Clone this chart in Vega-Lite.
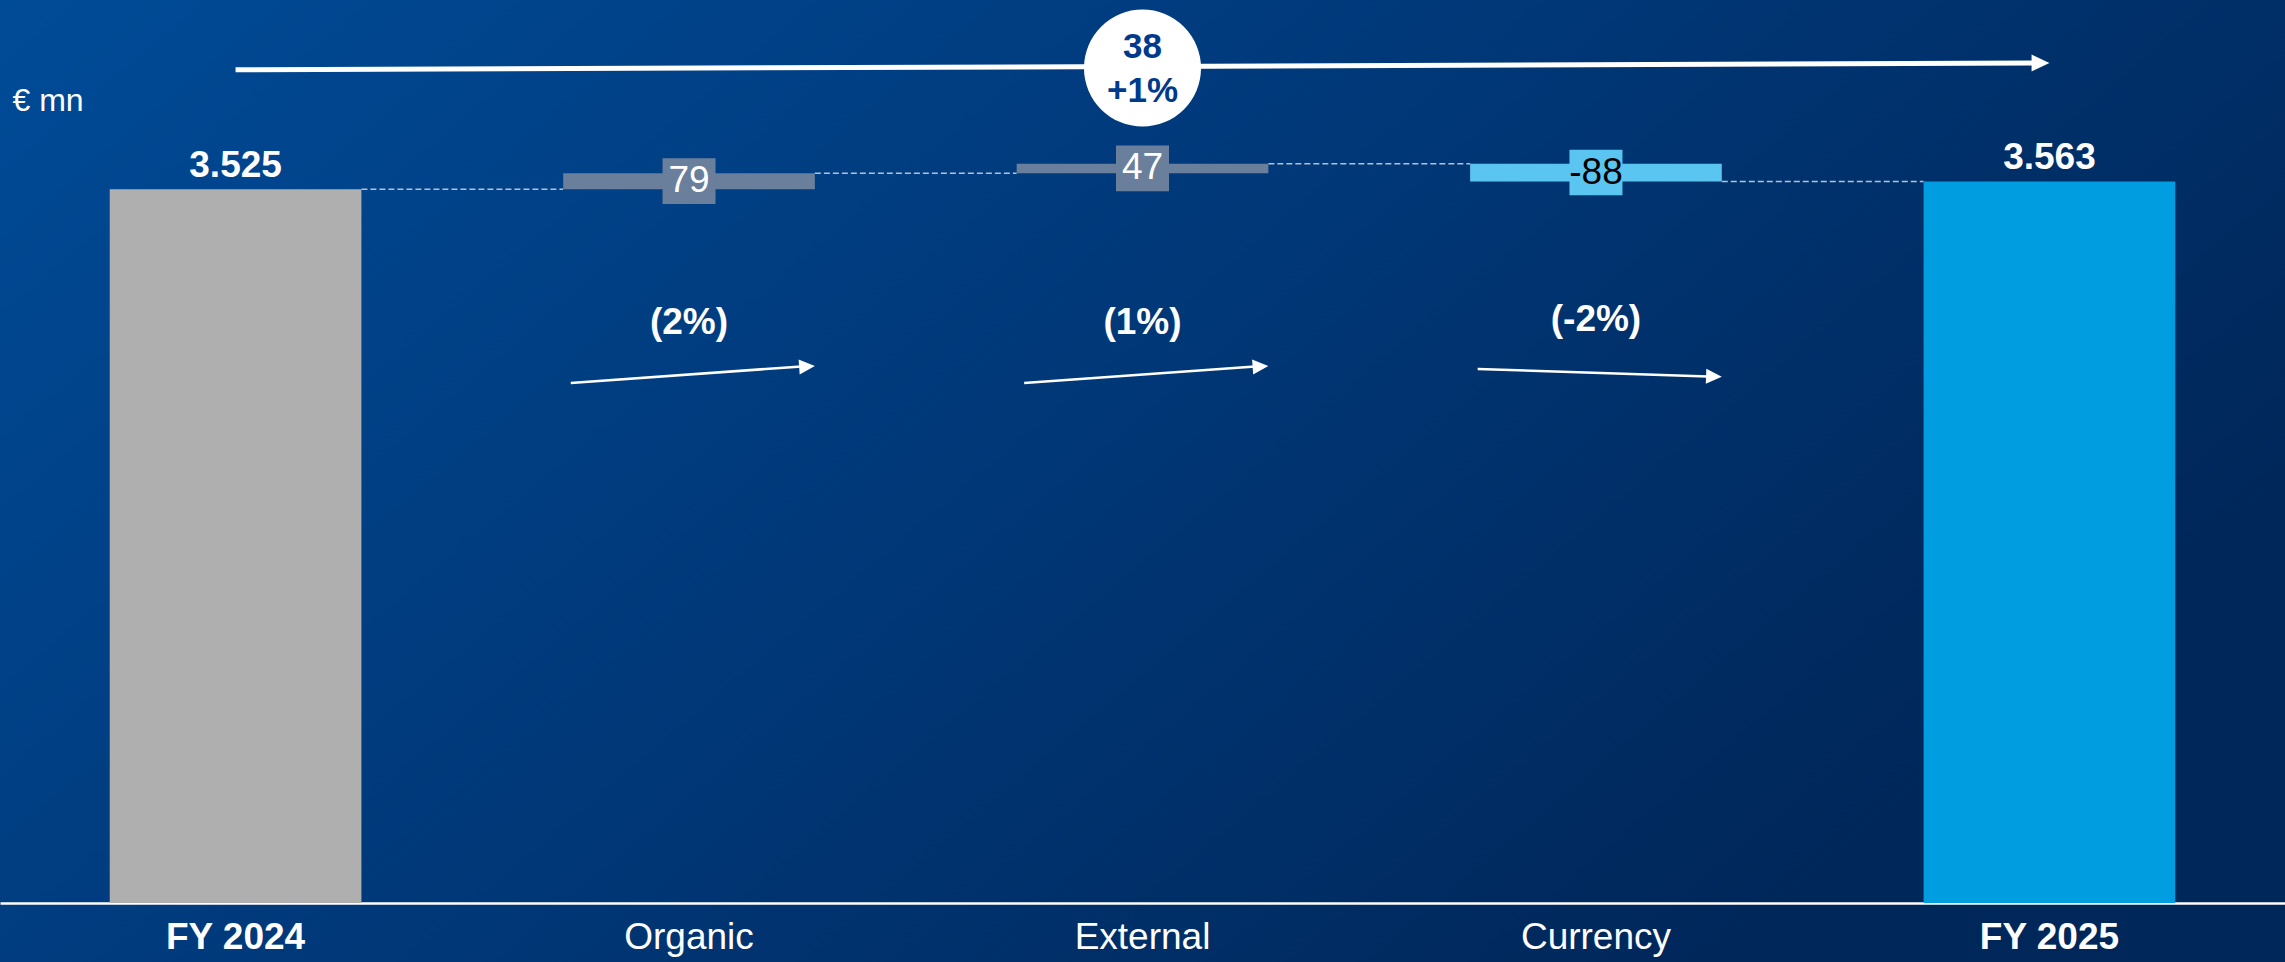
{
  "$schema": "https://vega.github.io/schema/vega-lite/v6.json",
  "width": 2285,
  "height": 962,
  "autosize": {"type": "none"},
  "padding": 0,
  "background": "#003a7a",
  "config": {
    "view": {
      "stroke": null,
      "fill": {
        "gradient": "linear",
        "x1": 0, "y1": 0, "x2": 1, "y2": 0.5,
        "stops": [
          {"offset": 0, "color": "#004b97"},
          {"offset": 0.5, "color": "#00397a"},
          {"offset": 1, "color": "#00275a"}
        ]
      }
    },
    "font": "Liberation Sans",
    "axisX": {
      "orient": "bottom", "offset": -59, "ticks": false, "tickSize": 0,
      "domainColor": "#ffffff", "domainWidth": 2.5, "labelColor": "#ffffff", "labelFontSize": 37,
      "labelFont": "Liberation Sans", "labelPadding": 34, "labelBaseline": "middle", "labelAngle": 0,
      "grid": false
    },
    "axisY": {
      "titleAngle": 0, "titleX": 12, "titleY": 100,
      "titleAlign": "left", "titleBaseline": "middle", "titleFontSize": 32, "titleFontWeight": "normal",
      "titleColor": "#ffffff", "titleFont": "Liberation Sans", "labels": false, "ticks": false,
      "domain": false, "grid": false
    }
  },
  "datasets": {
    "bars": [
      {"cat": "FY 2024", "start": 0, "end": 3525, "label": "3.525"},
      {"cat": "Organic", "start": 3525, "end": 3604, "label": "79"},
      {"cat": "External", "start": 3604, "end": 3651, "label": "47"},
      {"cat": "Currency", "start": 3651, "end": 3563, "label": "-88"},
      {"cat": "FY 2025", "start": 0, "end": 3563, "label": "3.563"}
    ],
    "connectors": [
      {"cat": "FY 2024", "to": "Organic", "v": 3525},
      {"cat": "Organic", "to": "External", "v": 3604},
      {"cat": "External", "to": "Currency", "v": 3651},
      {"cat": "Currency", "to": "FY 2025", "v": 3563}
    ],
    "pcts": [
      {"cat": "Organic", "pct": "(2%)", "v": 2864},
      {"cat": "External", "pct": "(1%)", "v": 2864},
      {"cat": "Currency", "pct": "(-2%)", "v": 2879}
    ],
    "arrows": [
      {"cat": "Organic", "v": 2568, "b": 2652},
      {"cat": "External", "v": 2568, "b": 2652},
      {"cat": "Currency", "v": 2637, "b": 2598}
    ],
    "total": [
      {"cat": "FY 2024", "to": "FY 2025", "v": 4114, "b": 4148}
    ],
    "bubble": [
      {"cat": "External", "v": 4123, "text": "38\n+1%"}
    ]
  },
  "encoding": {
    "x": {
      "field": "cat", "type": "nominal", "title": null,
      "scale": {"domain": ["FY 2024", "Organic", "External", "Currency", "FY 2025"], "paddingInner": 0.445, "paddingOuter": 0.242},
      "axis": {
        "labelFontWeight": {"condition": {"test": "indexof(datum.value,'FY')===0", "value": "bold"}, "value": "normal"}
      }
    },
    "y": {
      "field": "v", "type": "quantitative", "title": "€ mn",
      "scale": {"domain": [-291.4, 4459], "nice": false, "zero": false}
    }
  },
  "layer": [
    {
      "data": {"name": "connectors"},
      "mark": {"type": "rule", "color": "#b4c2d8", "strokeWidth": 1.5, "strokeDash": [6, 3]},
      "encoding": {
        "x": {
          "field": "cat", "type": "nominal", "bandPosition": 1, "title": null,
          "axis": {
            "labelFontWeight": {"condition": {"test": "indexof(datum.value,'FY')===0", "value": "bold"}, "value": "normal"}
          }
        },
        "x2": {"field": "to", "bandPosition": 0}
      }
    },
    {
      "data": {"name": "bars"},
      "mark": {"type": "bar"},
      "encoding": {
        "y": {"field": "start", "type": "quantitative", "title": "€ mn"},
        "y2": {"field": "end"},
        "fill": {
          "field": "cat", "type": "nominal", "legend": null,
          "scale": {"domain": ["FY 2024", "Organic", "External", "Currency", "FY 2025"], "range": ["#afafaf", "#6a7f9b", "#6a7f9b", "#5bc5f1", "#009ee0"]}
        }
      }
    },
    {
      "data": {"name": "bars"},
      "transform": [
        {"filter": "datum.start > 0"},
        {"fold": ["start", "end"], "as": ["k", "v"]}
      ],
      "mark": {"type": "point", "filled": true, "opacity": 1, "strokeWidth": 0, "shape": "M-1,-0.86L1,-0.86L1,0.86L-1,0.86Z", "size": 2809},
      "encoding": {
        "y": {"aggregate": "mean", "field": "v", "type": "quantitative", "title": "€ mn"},
        "fill": {"field": "cat", "type": "nominal", "legend": null}
      }
    },
    {
      "data": {"name": "bars"},
      "transform": [
        {"filter": "datum.start > 0"},
        {"fold": ["start", "end"], "as": ["k", "v"]}
      ],
      "mark": {"type": "text", "fontSize": 37, "baseline": "middle", "align": "center", "font": "Liberation Sans"},
      "encoding": {
        "y": {"aggregate": "mean", "field": "v", "type": "quantitative", "title": "€ mn"},
        "text": {"field": "label", "type": "nominal"},
        "color": {"condition": {"test": "datum.cat === 'Currency'", "value": "#000000"}, "value": "#ffffff"}
      }
    },
    {
      "data": {"name": "bars"},
      "transform": [{"filter": "datum.start === 0"}],
      "mark": {"type": "text", "fontSize": 37, "fontWeight": "bold", "baseline": "alphabetic", "align": "center", "dy": -12, "color": "#ffffff", "font": "Liberation Sans"},
      "encoding": {
        "y": {"field": "end", "type": "quantitative", "title": "€ mn"},
        "text": {"field": "label", "type": "nominal"}
      }
    },
    {
      "data": {"name": "pcts"},
      "mark": {"type": "text", "fontSize": 37, "fontWeight": "bold", "baseline": "middle", "align": "center", "color": "#ffffff", "font": "Liberation Sans"},
      "encoding": {
        "text": {"field": "pct", "type": "nominal"}
      }
    },
    {
      "data": {"name": "arrows"},
      "mark": {"type": "rule", "color": "#ffffff", "strokeWidth": 2.5},
      "encoding": {
        "x": {
          "field": "cat", "type": "nominal", "bandPosition": 0.03, "title": null,
          "axis": {
            "labelFontWeight": {"condition": {"test": "indexof(datum.value,'FY')===0", "value": "bold"}, "value": "normal"}
          }
        },
        "x2": {"field": "cat", "bandPosition": 0.975},
        "y2": {"field": "b"}
      }
    },
    {
      "data": {"name": "arrows"},
      "mark": {"type": "point", "filled": true, "opacity": 1, "strokeWidth": 0, "color": "#ffffff", "shape": "M0,0L-2.1,-1L-2.1,1Z", "size": 225},
      "encoding": {
        "x": {
          "field": "cat", "type": "nominal", "bandPosition": 1, "title": null,
          "axis": {
            "labelFontWeight": {"condition": {"test": "indexof(datum.value,'FY')===0", "value": "bold"}, "value": "normal"}
          }
        },
        "y": {"field": "b", "type": "quantitative", "title": "€ mn"},
        "angle": {"condition": {"test": "datum.cat === 'Currency'", "value": 2}, "value": -4}
      }
    },
    {
      "data": {"name": "total"},
      "mark": {"type": "rule", "color": "#ffffff", "strokeWidth": 5},
      "encoding": {
        "x2": {"field": "to", "bandPosition": 0.47},
        "y2": {"field": "b"}
      }
    },
    {
      "data": {"name": "total"},
      "mark": {"type": "point", "filled": true, "opacity": 1, "strokeWidth": 0, "color": "#ffffff", "shape": "M0,0L-2.1,-1L-2.1,1Z", "size": 289},
      "encoding": {
        "x": {
          "field": "to", "type": "nominal", "title": null,
          "axis": {
            "labelFontWeight": {"condition": {"test": "indexof(datum.value,'FY')===0", "value": "bold"}, "value": "normal"}
          }
        },
        "y": {"field": "b", "type": "quantitative", "title": "€ mn"}
      }
    },
    {
      "data": {"name": "bubble"},
      "mark": {"type": "point", "shape": "circle", "filled": true, "opacity": 1, "strokeWidth": 0, "color": "#ffffff", "size": 13700}
    },
    {
      "data": {"name": "bubble"},
      "mark": {"type": "text", "fontSize": 35, "fontWeight": "bold", "baseline": "middle", "align": "center", "dy": -21, "color": "#003a8c", "lineBreak": "\n", "lineHeight": 44, "font": "Liberation Sans"},
      "encoding": {
        "text": {"field": "text", "type": "nominal"}
      }
    }
  ]
}
